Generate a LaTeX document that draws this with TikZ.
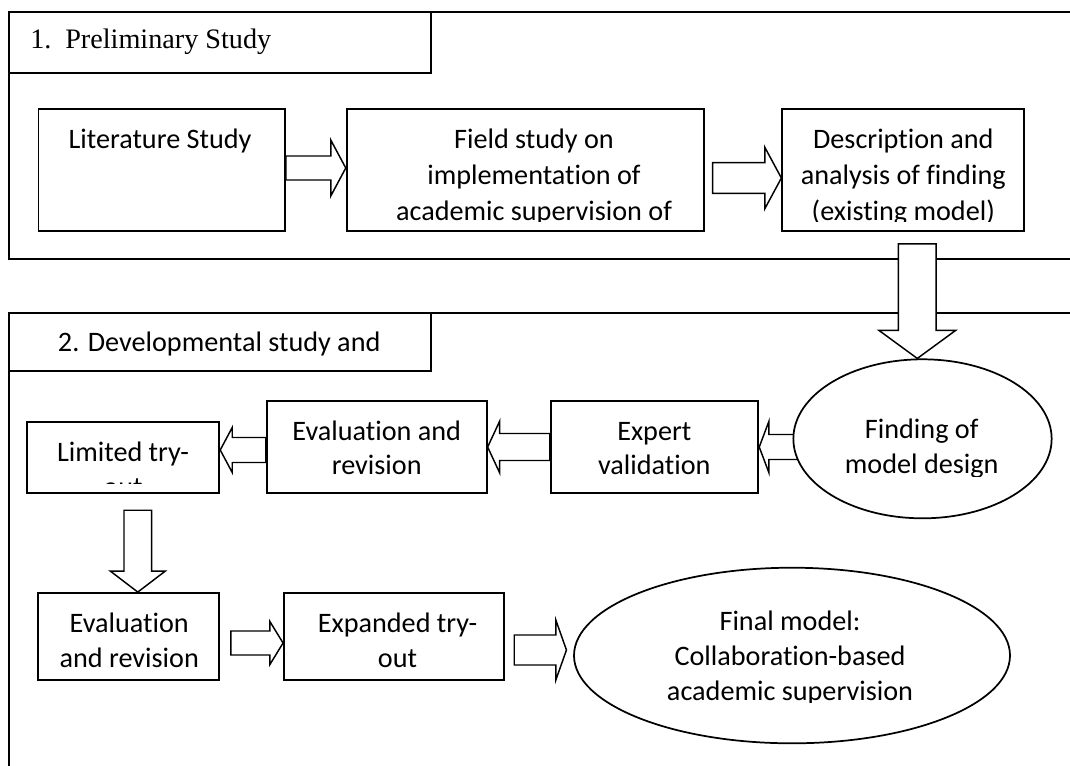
\documentclass[tikz,border=0pt]{standalone}
\usepackage{fontspec}
\setmainfont{Carlito}[Ligatures=NoCommon]
\newfontfamily\tnr{Liberation Serif}
\usetikzlibrary{shapes.geometric,calc}
\pgfdeclarelayer{frames}
\pgfdeclarelayer{arrows}
\pgfsetlayers{frames,arrows,main}
\tikzset{
  box/.style={draw, line width=1.4pt, fill=white, inner sep=0pt, rectangle},
  oval/.style={draw, line width=1.3pt, fill=white, inner sep=0pt, ellipse},
  frame/.style={line width=1.6pt},
  blk/.style={draw, fill=white, line width=1.1pt, line join=miter},
  txt/.style={anchor=base, inner sep=0pt, font=\fontsize{21.15}{26}\selectfont},
  bw/.style={minimum width=#1*0.75pt},
  bh/.style={minimum height=#1*0.75pt},
}
% horizontal block arrow: tail, tip, shaft half width, head half width, signed head length
\newcommand\harr[5]{\draw[blk] ($(#1)+(0,{-(#3)})$) -- ($(#2)+({-(#5)},{-(#3)})$) -- ($(#2)+({-(#5)},{-(#4)})$) -- (#2) -- ($(#2)+({-(#5)},#4)$) -- ($(#2)+({-(#5)},#3)$) -- ($(#1)+(0,#3)$) -- cycle;}
% downward block arrow
\newcommand\varr[5]{\draw[blk] ($(#1)+({-(#3)},0)$) -- ($(#2)+({-(#3)},{-(#5)})$) -- ($(#2)+({-(#4)},{-(#5)})$) -- (#2) -- ($(#2)+(#4,{-(#5)})$) -- ($(#2)+(#3,{-(#5)})$) -- ($(#1)+(#3,0)$) -- cycle;}
% lines of text: name, x, first baseline, line spacing, list
\newcommand\tlines[5]{\foreach \t [count=\i] in {#5} {\node[txt] (#1\i) at (#2,{#3+#4*(\i-1)}) {\t};}}
\begin{document}
\begin{tikzpicture}[x=0.75pt,y=-0.75pt]
\useasboundingbox (0,0) rectangle (1070,765);
\clip (0,0) rectangle (1070,765);
% frames
\begin{pgfonlayer}{frames}
\draw[frame] (1090,12) -- (9,12) -- (9,259) -- (1090,259);
\draw[frame] (1090,313) -- (9,313) -- (9,790);
\end{pgfonlayer}
% headers
\node[box, line width=1.6pt, bw=421.7, bh=61] (h1) at (219.85,42.5) {};
\node[box, line width=1.6pt, bw=421.7, bh=58] (h2) at (219.85,342) {};
\node[anchor=base west, inner sep=0pt, font=\tnr\fontsize{21.15}{26}\selectfont] (h1t) at (30,48.3) {1.\hspace{10.4pt}Preliminary Study};
\node[txt] (h2t) at (219.2,351.7) {2. Developmental study and};
% boxes
\node[box, bw=246.5, bh=122] (lit) at (161.75,170) {};
\node[box, bw=357.3, bh=122] (field) at (525.35,170) {};
\node[box, bw=241.7, bh=122] (desc) at (903.15,170) {};
\node[oval, bw=258.3, bh=159] (find) at (922.5,438.8) {};
\node[box, bw=207.6, bh=92] (expert) at (654.5,447) {};
\node[box, bw=220, bh=92] (eval1) at (376.7,447) {};
\node[box, bw=192.6, bh=71] (lim) at (123,457.5) {};
\node[box, bw=181, bh=87] (eval2) at (128.8,636.5) {};
\node[box, bw=220, bh=87] (exp) at (394,636.5) {};
\node[oval, bw=436, bh=175.6] (final) at (792,655.5) {};
% arrows
\coordinate (a1s) at ($(lit.east)+(0,-2)$);
\coordinate (a1e) at (field.west |- a1s);
\coordinate (a2s) at ($(field.east)+(7.7,8)$);
\coordinate (a2e) at (desc.west |- a2s);
\coordinate (d1s) at ($(desc.south)+(14.15,12)$);
\coordinate (d1e) at (d1s |- find.north);
\coordinate (l1s) at ($(find.west)+(20,8.2)$);
\coordinate (l1e) at (expert.east |- l1s);
\coordinate (l2s) at (expert.west);
\coordinate (l2e) at (eval1.east |- l2s);
\coordinate (l3s) at ($(eval1.west)+(0,3)$);
\coordinate (l3e) at (lim.east |- l3s);
\coordinate (d2s) at ($(lim.south)+(14.8,16.3)$);
\coordinate (d2e) at (d2s |- eval2.north);
\coordinate (r3s) at ($(eval2.east)+(10.7,6.5)$);
\coordinate (r3e) at (exp.west |- r3s);
\coordinate (r4s) at ($(exp.east)+(9.3,13.5)$);
\coordinate (r4e) at ($(final.west)+(-6.7,-5.5)$);
\begin{pgfonlayer}{arrows}
\harr{a1s}{a1e}{12}{28}{15}
\harr{a2s}{a2e}{15.3}{30.8}{16.6}
\varr{d1s}{d1e}{18.9}{38.3}{28}
\harr{l1s}{l1e}{12.5}{25.5}{-9.6}
\harr{l2s}{l2e}{13.5}{25.8}{-12}
\harr{l3s}{l3e}{12.5}{22.5}{-12}
\varr{d2s}{d2e}{13.8}{27.5}{21}
\harr{r3s}{r3e}{12}{21.7}{13.3}
\harr{r4s}{r4e}{15}{30}{10.6}
\end{pgfonlayer}
% texts
\tlines{litt}{160}{148}{36}{{Literature Study}}
\begin{scope}
\clip (347,109) rectangle (704,221.7);
\tlines{fieldt}{534}{148}{36}{{Field study on},{implementation of},{academic supervision of}}
\end{scope}
\begin{scope}
\clip (782,109) rectangle (1024,221.7);
\tlines{desct}{903.3}{148}{36}{{Description and},{analysis of finding},{(existing model)}}
\end{scope}
\begin{scope}
\clip (800,380) rectangle (1050,476);
\tlines{findt}{921.7}{438}{35}{{Finding of},{model design}}
\end{scope}
\tlines{expertt}{654.3}{440}{34}{{Expert},{validation}}
\tlines{eval1t}{376.7}{440}{34}{{Evaluation and},{revision}}
\begin{scope}
\clip (27,422) rectangle (219,483.5);
\tlines{limt}{123}{461}{35}{{Limited try-},{out}}
\end{scope}
\tlines{eval2t}{129.2}{632}{35}{{Evaluation},{and revision}}
\tlines{expt}{397.5}{632}{35}{{Expanded try-},{out}}
\begin{scope}
\clip (600,580) rectangle (1000,702.3);
\tlines{finalt}{790}{630}{35}{{Final model:},{Collaboration-based},{academic supervision}}
\end{scope}
\end{tikzpicture}
\end{document}
